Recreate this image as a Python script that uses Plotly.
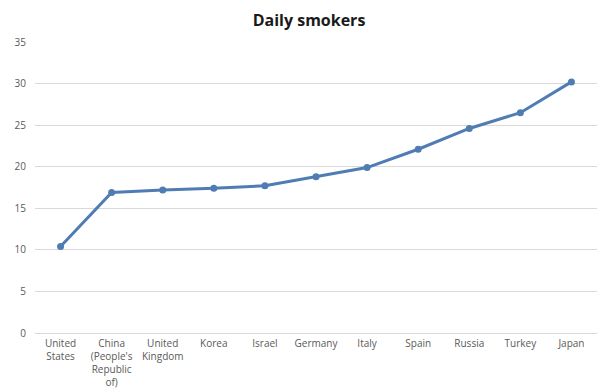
import plotly.graph_objects as go

# Daily smokers, % of population aged 15+
countries = ["United<br>States", "China<br>(People's<br>Republic<br>of)", "United<br>Kingdom",
             "Korea", "Israel", "Germany", "Italy", "Spain", "Russia", "Turkey", "Japan"]
smokers = [10.4, 16.9, 17.2, 17.4, 17.7, 18.8, 19.9, 22.1, 24.6, 26.5, 30.2]
y_ticks = [0, 5, 10, 15, 20, 25, 30, 35]

line_color = "#4f7db3"
grid_color = "#d9d9d9"
font_family = "Open Sans, Lato, sans-serif"

fig = go.Figure(
    go.Scatter(
        x=list(range(len(countries))),
        y=smokers,
        mode="lines+markers",
        line=dict(color=line_color, width=3),
        marker=dict(color=line_color, size=7),
        showlegend=False,
    )
)

fig.update_layout(
    width=600,
    height=390,
    margin=dict(l=35, r=3, t=42, b=57),
    paper_bgcolor="white",
    plot_bgcolor="white",
    title=dict(
        text="<b>Daily smokers</b>",
        x=0.515,
        xanchor="center",
        y=0.948,
        yanchor="middle",
        font=dict(family=font_family, size=16, color="#1a1a1a"),
    ),
    font=dict(family=font_family, size=10, color="#595959"),
)

fig.update_xaxes(
    range=[-0.5, len(countries) - 0.5],
    tickmode="array",
    tickvals=list(range(len(countries))),
    ticktext=countries,
    showgrid=False,
    zeroline=False,
    showline=False,
    ticks="",
    automargin=False,
    ticklabelstandoff=3,
    tickfont=dict(size=10, color="#595959"),
)

fig.update_yaxes(
    range=[0, 35],
    tickmode="array",
    tickvals=y_ticks,
    showgrid=True,
    gridcolor=grid_color,
    gridwidth=1,
    zeroline=True,
    zerolinecolor=grid_color,
    zerolinewidth=1,
    showline=False,
    ticks="",
    automargin=False,
    ticklabelstandoff=8,
    tickfont=dict(size=10, color="#595959"),
)

fig.write_html("out.html")
